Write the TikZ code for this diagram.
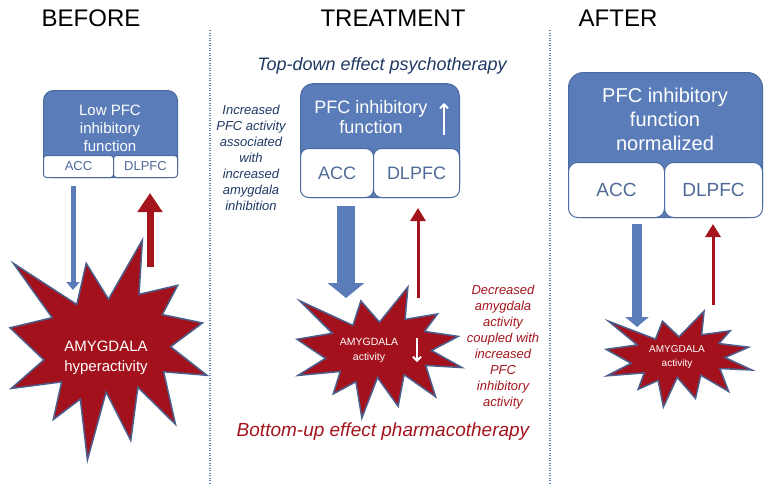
\documentclass[tikz,border=0pt]{standalone}
\usepackage{fontspec}
\setmainfont{Liberation Sans}
\usepackage{xcolor}
\usepackage{tikz}
\usetikzlibrary{arrows.meta}

\definecolor{pfcblue}{HTML}{5A7DB9}
\definecolor{pfcline}{HTML}{4A6AA0}
\definecolor{subtext}{HTML}{4F6A98}
\definecolor{blastred}{HTML}{A3121C}
\definecolor{blastline}{HTML}{4B5E8C}
\definecolor{arrowred}{HTML}{A3141C}
\definecolor{navytext}{HTML}{1F3864}
\definecolor{sepblue}{HTML}{6584B3}

% explosion outline, fitted in the box (x,y) w x h
\newcommand{\blast}[4]{%
  \begin{scope}[shift={(#1,#2)},xscale=#3,yscale=#4]
    \draw[blastfill] (0.5,0.269) -- (0.672,0) -- (0.655,0.247) -- (0.851,0.206)
      -- (0.773,0.339) -- (0.977,0.377) -- (0.815,0.485) -- (1,0.615)
      -- (0.78,0.599) -- (0.84,0.838) -- (0.649,0.669) -- (0.613,0.911)
      -- (0.488,0.691) -- (0.393,1) -- (0.357,0.723) -- (0.22,0.816)
      -- (0.262,0.645) -- (0.006,0.675) -- (0.172,0.545) -- (0,0.399)
      -- (0.214,0.353) -- (0.017,0.106) -- (0.339,0.293) -- (0.387,0.106) -- cycle;
  \end{scope}}

\begin{document}
\begin{tikzpicture}[x=1pt,y=-1pt]
  \tikzstyle{pfc}=[draw=pfcline,fill=pfcblue,line width=1pt,inner sep=0pt,anchor=north west]
  \tikzstyle{sub}=[draw=pfcline,fill=white,line width=1pt,inner sep=0pt,anchor=north west,text=subtext]
  \tikzstyle{boxtext}=[text=white,align=center,inner sep=0pt]
  \tikzstyle{blastfill}=[fill=blastred,draw=blastline,line width=1.5pt,line join=miter]
  \tikzstyle{title}=[font=\fontsize{24}{24}\selectfont,inner sep=0pt]
  \tikzstyle{note}=[font=\fontsize{13}{15.9}\selectfont\itshape,align=center,inner sep=0pt]
  \tikzstyle{sep}=[sepblue,line width=1.4pt,dash pattern=on 1.2pt off 1.3pt]
  \tikzstyle{blueup}=[pfcblue,-{Triangle[length=8pt,width=13pt]}]
  \tikzstyle{redup}=[arrowred,-{Triangle[length=19pt,width=24pt]}]
  \tikzstyle{thinred}=[arrowred,line width=3pt,-{Triangle[length=13pt,width=15pt]}]
  \tikzstyle{whitearrow}=[white,line width=1.8pt,-{Straight Barb[length=4pt,width=8pt]}]
  \useasboundingbox (0,0) rectangle (773,493);

  % column titles and separators
  \node[title] (before) at (91,18) {BEFORE};
  \node[title] (treat) at (393,18) {TREATMENT};
  \node[title] (after) at (618,18) {AFTER};
  \draw[sep] (210,30) -- (210,485);
  \draw[sep] (550,30) -- (550,485);

  % BEFORE
  \node[pfc,rounded corners=10pt,minimum width=134pt,minimum height=87pt] (boxA) at (43,90) {};
  \node[sub,rounded corners=3pt,minimum width=70pt,minimum height=22pt,font=\fontsize{13}{13}\selectfont] (accA) at (43,155) {ACC};
  \node[sub,rounded corners=3pt,minimum width=64pt,minimum height=22pt,font=\fontsize{13}{13}\selectfont] (dlA) at (113,155) {DLPFC};
  \node[boxtext,font=\fontsize{15}{18}\selectfont] (funA) at (110,128) {Low PFC\\inhibitory\\function};
  \blast{10}{240}{197}{220}
  \node[boxtext,font=\fontsize{15}{20}\selectfont] (amyA) at (106,358) {AMYGDALA\\hyperactivity};
  \coordinate (inA) at (73,290);
  \coordinate (upA) at (150,267);
  \draw[blueup,line width=5pt,shorten <=8pt] (accA.south -| inA) -- (inA);
  \draw[redup,line width=7pt,shorten >=15pt] (upA) -- (upA |- dlA.south);

  % TREATMENT
  \node[note,font=\fontsize{18}{18}\selectfont\itshape,text=navytext] (topdown) at (382,66) {Top-down effect psychotherapy};
  \node[pfc,rounded corners=13pt,minimum width=159pt,minimum height=114pt] (boxB) at (300,83) {};
  \node[sub,rounded corners=8pt,minimum width=73pt,minimum height=49pt,font=\fontsize{18}{18}\selectfont] (accB) at (300,148) {ACC};
  \node[sub,rounded corners=8pt,minimum width=86pt,minimum height=49pt,font=\fontsize{18}{18}\selectfont] (dlB) at (373,148) {DLPFC};
  \node[boxtext,font=\fontsize{18}{20}\selectfont] (funB) at (371,117) {PFC inhibitory\\function};
  \coordinate (riseB) at (444,103);
  \draw[whitearrow] (riseB |- boxB.north) ++(0,52) -- (riseB);
  \node[note,text=navytext] (leftnote) at (251,158) {Increased\\PFC activity\\associated\\with\\increased\\amygdala\\inhibition};
  \blast{297}{287}{165}{131}
  \node[boxtext,font=\fontsize{10.5}{15}\selectfont] (amyB) at (369,350) {AMYGDALA\\activity};
  \coordinate (fallB) at (417,362);
  \draw[whitearrow] (fallB) ++(0,-24) -- (fallB);
  \coordinate (inB) at (346,298);
  \coordinate (upB) at (418,298);
  \draw[pfcblue,line width=18pt,-{Triangle[length=15pt,width=36pt]},shorten <=8pt] (accB.south -| inB) -- (inB);
  \draw[thinred,shorten >=10pt] (upB) -- (upB |- dlB.south);
  \node[note,text=arrowred] (rightnote) at (503,347) {Decreased\\amygdala\\activity\\coupled with\\increased\\PFC\\inhibitory\\activity};
  \node[note,font=\fontsize{19}{19}\selectfont\itshape,text=arrowred] (bottomup) at (383,432) {Bottom-up effect pharmacotherapy};

  % AFTER
  \node[pfc,rounded corners=15pt,minimum width=194pt,minimum height=145pt] (boxC) at (568,72) {};
  \node[sub,rounded corners=9pt,minimum width=96pt,minimum height=55pt,font=\fontsize{19}{19}\selectfont] (accC) at (568,162) {ACC};
  \node[sub,rounded corners=9pt,minimum width=98pt,minimum height=55pt,font=\fontsize{19}{19}\selectfont] (dlC) at (664,162) {DLPFC};
  \node[boxtext,font=\fontsize{20}{24}\selectfont] (funC) at (665,119) {PFC inhibitory\\function\\normalized};
  \blast{606}{311}{146}{96}
  \node[boxtext,font=\fontsize{10}{14}\selectfont] (amyC) at (677,357) {AMYGDALA\\activity};
  \coordinate (inC) at (637,327);
  \coordinate (upC) at (713,305);
  \draw[pfcblue,line width=10pt,-{Triangle[length=10pt,width=23pt]},shorten <=6pt] (accC.south -| inC) -- (inC);
  \draw[thinred,shorten >=6pt] (upC) -- (upC |- dlC.south);
\end{tikzpicture}
\end{document}
